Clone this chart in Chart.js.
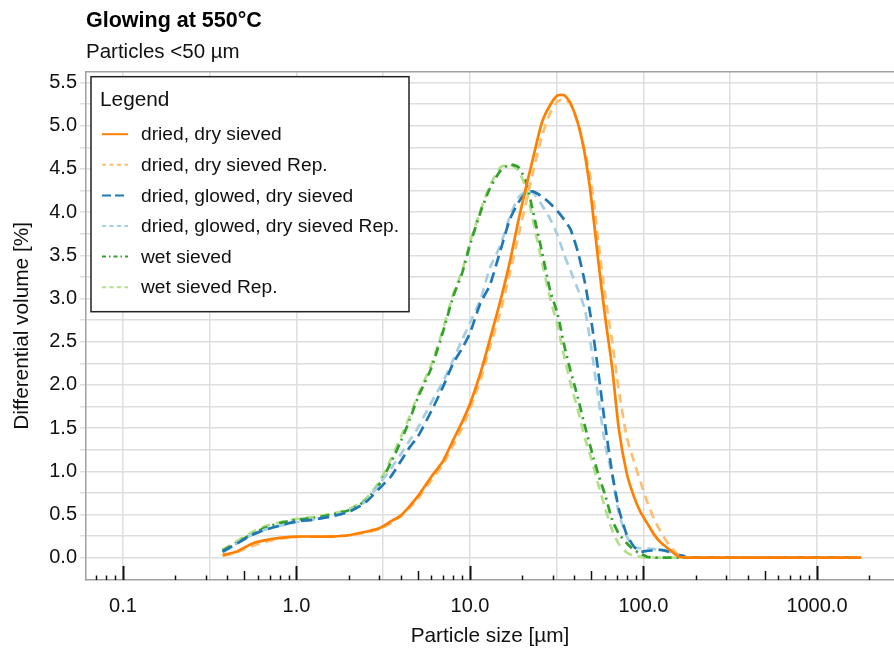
<!DOCTYPE html>
<html lang="en">
<head>
  <meta charset="UTF-8" />
  <title>Glowing at 550°C</title>
  <script src="https://cdn.jsdelivr.net/npm/chart.js"></script>
  <style>
    html, body { margin: 0; padding: 0; background: #fff; }
  </style>
</head>
<body>
<canvas id="grafico" width="894" height="653"></canvas>
<script>
  // particle size classes [µm]
  const sizes = [0.375, 0.45, 0.55, 0.65, 0.8, 1.0, 1.25, 1.6, 2.0, 2.5,
    3.0, 3.5, 4.0, 4.5, 5.0, 6.0, 7.0, 8.0, 9.0, 10,
    11.5, 13, 15, 17, 19, 21, 23, 26, 29, 32,
    35, 38, 42, 46, 50, 55, 60, 66, 72, 80,
    88, 96, 105, 115, 125, 140, 160, 180, 200, 250,
    400, 630, 1000, 1800];

  const driedDry = [0.03, 0.07, 0.16, 0.20, 0.23, 0.245, 0.245, 0.245, 0.26, 0.30,
    0.34, 0.42, 0.49, 0.60, 0.71, 0.94, 1.12, 1.36, 1.57, 1.78,
    2.14, 2.52, 2.98, 3.43, 3.90, 4.28, 4.61, 5.04, 5.24, 5.35,
    5.35, 5.26, 5.02, 4.66, 4.16, 3.42, 2.80, 2.20, 1.50, 0.98,
    0.71, 0.53, 0.40, 0.27, 0.18, 0.10, 0.01, 0.0, 0, 0,
    0, 0, 0, 0];
  const driedDryRep = [0.02, 0.06, 0.13, 0.18, 0.22, 0.24, 0.245, 0.25, 0.26, 0.29,
    0.33, 0.40, 0.48, 0.58, 0.68, 0.90, 1.08, 1.30, 1.50, 1.72,
    2.06, 2.43, 2.85, 3.30, 3.72, 4.10, 4.45, 4.88, 5.15, 5.28,
    5.31, 5.25, 5.02, 4.70, 4.35, 3.65, 3.05, 2.50, 1.95, 1.40,
    1.12, 0.88, 0.65, 0.45, 0.31, 0.15, 0.03, 0.005, 0, 0,
    0, 0, 0, 0];
  const glowed = [0.07, 0.16, 0.26, 0.32, 0.37, 0.42, 0.44, 0.48, 0.53, 0.64,
    0.80, 0.94, 1.12, 1.28, 1.40, 1.70, 1.98, 2.25, 2.42, 2.60,
    2.95, 3.15, 3.56, 3.92, 4.11, 4.22, 4.24, 4.18, 4.10, 4.01,
    3.91, 3.80, 3.53, 3.18, 2.75, 2.14, 1.55, 0.98, 0.57, 0.27,
    0.13, 0.07, 0.08, 0.085, 0.09, 0.07, 0.03, 0.01, 0, 0,
    0, 0, 0, 0];
  const glowedRep = [0.06, 0.16, 0.26, 0.32, 0.37, 0.41, 0.44, 0.48, 0.53, 0.65,
    0.85, 1.03, 1.20, 1.36, 1.50, 1.80, 2.04, 2.29, 2.52, 2.72,
    2.99, 3.35, 3.62, 3.95, 4.17, 4.24, 4.23, 4.08, 3.92, 3.73,
    3.50, 3.32, 3.10, 2.87, 2.43, 1.84, 1.32, 0.95, 0.52, 0.25,
    0.12, 0.11, 0.11, 0.10, 0.09, 0.07, 0.03, 0.01, 0, 0,
    0, 0, 0, 0];
  const wet = [0.08, 0.17, 0.27, 0.34, 0.40, 0.44, 0.46, 0.50, 0.55, 0.66,
    0.85, 1.10, 1.35, 1.60, 1.85, 2.20, 2.62, 3.02, 3.29, 3.62,
    4.00, 4.27, 4.48, 4.55, 4.52, 4.36, 4.02, 3.54, 3.09, 2.82,
    2.45, 2.16, 1.84, 1.52, 1.25, 0.96, 0.73, 0.44, 0.28, 0.17,
    0.09, 0.05, 0.01, 0, 0, 0, 0, 0, 0, 0,
    0, 0, 0, 0];
  const wetRep = [0.09, 0.19, 0.29, 0.36, 0.41, 0.45, 0.47, 0.51, 0.56, 0.68,
    0.88, 1.14, 1.40, 1.64, 1.88, 2.24, 2.65, 3.05, 3.32, 3.65,
    4.02, 4.30, 4.52, 4.55, 4.48, 4.28, 3.92, 3.42, 3.00, 2.68,
    2.32, 2.02, 1.70, 1.38, 1.15, 0.84, 0.58, 0.32, 0.16, 0.06,
    0.02, 0.01, 0, 0, 0, 0, 0, 0, 0, 0,
    0, 0, 0, 0];

  const seriesNames = ['dried, dry sieved', 'dried, dry sieved Rep.', 'dried, glowed, dry sieved',
    'dried, glowed, dry sieved Rep.', 'wet sieved', 'wet sieved Rep.'];
  const seriesValues = [driedDry, driedDryRep, glowed, glowedRep, wet, wetRep];
  const seriesColors = ['#ff7f00', '#fdbf6f', '#1f78b4', '#a6cee3', '#33a02c', '#b2df8a'];
  const seriesDashes = [[], [9, 6], [11, 6], [9, 6], [9, 5, 2, 5], [9, 6]];
  const legendDashes = [[], [4, 3.5], [9, 4], [4, 3.5], [4, 3, 1.5, 3], [4, 3.5]];

  // axes
  const xGridValues = [0.1, 0.3162, 1, 3.162, 10, 31.62, 100, 316.2, 1000];
  const xTickValues = [0.1, 1, 10, 100, 1000];
  const xTickLabels = ['0.1', '1.0', '10.0', '100.0', '1000.0'];
  const yGridValues = [0, 0.25, 0.5, 0.75, 1, 1.25, 1.5, 1.75, 2, 2.25, 2.5, 2.75,
    3, 3.25, 3.5, 3.75, 4, 4.25, 4.5, 4.75, 5, 5.25, 5.5];
  const yTickValues = [0, 0.5, 1, 1.5, 2, 2.5, 3, 3.5, 4, 4.5, 5, 5.5];
  const yTickLabels = ['0.0', '0.5', '1.0', '1.5', '2.0', '2.5', '3.0', '3.5', '4.0', '4.5', '5.0', '5.5'];

  const fonte = "'Liberation Sans', Arial, sans-serif";
  const corGrade = '#dedede';

  Chart.defaults.font.family = fonte;
  Chart.defaults.color = '#111';

  function labelFor(v, valores, textos) {
    const i = valores.findIndex(t => Math.abs(t - v) / Math.max(Math.abs(t), 0.01) < 0.001);
    return i >= 0 ? textos[i] : '';
  }

  // black log ticks on the inner side of the x axis + top frame line
  const logTicks = {
    id: 'logTicks',
    afterDraw(chart) {
      const { ctx, chartArea } = chart;
      const sx = chart.scales.x;
      ctx.save();
      ctx.strokeStyle = '#a0a0a0';
      ctx.lineWidth = 1.5;
      ctx.beginPath();
      ctx.moveTo(chartArea.left, chartArea.top);
      ctx.lineTo(chartArea.right, chartArea.top);
      ctx.stroke();

      ctx.strokeStyle = '#111';
      for (let k = -2; k <= 3; k++) {
        for (let m = 1; m <= 9; m++) {
          const v = m * Math.pow(10, k);
          if (v < sx.min || v > sx.max) continue;
          const px = Math.round(sx.getPixelForValue(v)) + 0.5;
          const len = m === 1 ? 14 : (m === 5 ? 9 : 4.5);
          ctx.lineWidth = m === 1 ? 2 : 1.5;
          ctx.beginPath();
          ctx.moveTo(px, chartArea.bottom);
          ctx.lineTo(px, chartArea.bottom - len);
          ctx.stroke();
        }
      }
      ctx.restore();
    }
  };

  // legend box drawn inside the plot area
  const legendBox = {
    id: 'legendBox',
    afterDraw(chart) {
      const { ctx, chartArea } = chart;
      const x0 = chartArea.left + 5, y0 = chartArea.top + 5;
      const w = 318, h = 235;
      ctx.save();
      ctx.fillStyle = '#fff';
      ctx.fillRect(x0, y0, w, h);
      ctx.strokeStyle = '#222';
      ctx.lineWidth = 1.5;
      ctx.strokeRect(x0, y0, w, h);

      ctx.fillStyle = '#111';
      ctx.textBaseline = 'middle';
      ctx.font = '20.8px ' + fonte;
      ctx.fillText('Legend', x0 + 9, y0 + 23.5);

      ctx.font = '19.2px ' + fonte;
      chart.data.datasets.forEach((ds, i) => {
        const y = y0 + 57.5 + i * 30.6;
        ctx.strokeStyle = ds.borderColor;
        ctx.lineWidth = 2;
        ctx.setLineDash(legendDashes[i]);
        ctx.beginPath();
        ctx.moveTo(x0 + 11, y);
        ctx.lineTo(x0 + 37, y);
        ctx.stroke();
        ctx.setLineDash([]);
        ctx.fillText(ds.label, x0 + 50, y + 1);
      });
      ctx.restore();
    }
  };

  const datasets = seriesNames.map((nome, i) => ({
    label: nome,
    data: sizes.map((s, j) => ({ x: s, y: seriesValues[i][j] })),
    borderColor: seriesColors[i],
    backgroundColor: seriesColors[i],
    borderDash: seriesDashes[i],
    borderWidth: 2.7,
    pointRadius: 0,
    tension: 0.2,
    fill: false
  }));

  const grafico = new Chart(document.getElementById('grafico'), {
    type: 'line',
    data: { datasets: datasets },
    options: {
      responsive: false,
      animation: false,
      layout: { padding: { left: 0, right: 0, top: 0, bottom: 0 } },
      plugins: {
        legend: { display: false },
        tooltip: { enabled: false },
        title: {
          display: true,
          text: 'Glowing at 550°C',
          align: 'start',
          fullSize: false,
          color: '#000',
          font: { size: 21.5, weight: 'bold' },
          padding: { top: 8, bottom: 0 }
        },
        subtitle: {
          display: true,
          text: 'Particles <50 µm',
          align: 'start',
          fullSize: false,
          color: '#111',
          font: { size: 20.5 },
          padding: { top: 6, bottom: 7.3 }
        }
      },
      scales: {
        x: {
          type: 'logarithmic',
          min: 0.0612,
          max: 2780,
          afterBuildTicks: s => { s.ticks = xGridValues.map(v => ({ value: v })); },
          afterFit: s => { s.height = 73; },
          ticks: {
            autoSkip: false,
            maxRotation: 0,
            padding: 14,
            font: { size: 20 },
            color: '#111',
            callback: v => labelFor(v, xTickValues, xTickLabels)
          },
          grid: { color: corGrade, lineWidth: 1.5, drawTicks: false },
          border: { color: '#a0a0a0', width: 1.5 },
          title: {
            display: true,
            text: 'Particle size [µm]',
            font: { size: 20.8 },
            color: '#111',
            padding: { top: 0, bottom: 4 }
          }
        },
        y: {
          min: -0.258,
          max: 5.625,
          afterBuildTicks: s => { s.ticks = yGridValues.map(v => ({ value: v })); },
          afterFit: s => { s.width = 86; },
          ticks: {
            autoSkip: false,
            padding: 3,
            font: { size: 20 },
            color: '#111',
            callback: v => labelFor(v, yTickValues, yTickLabels)
          },
          grid: { color: corGrade, lineWidth: 1.5, tickLength: 6, tickColor: corGrade },
          border: { color: '#a0a0a0', width: 1.5 },
          title: {
            display: true,
            text: 'Differential volume [%]',
            font: { size: 20.8 },
            color: '#111',
            padding: { top: 10, bottom: 0 }
          }
        }
      }
    },
    plugins: [logTicks, legendBox]
  });
</script>
</body>
</html>
